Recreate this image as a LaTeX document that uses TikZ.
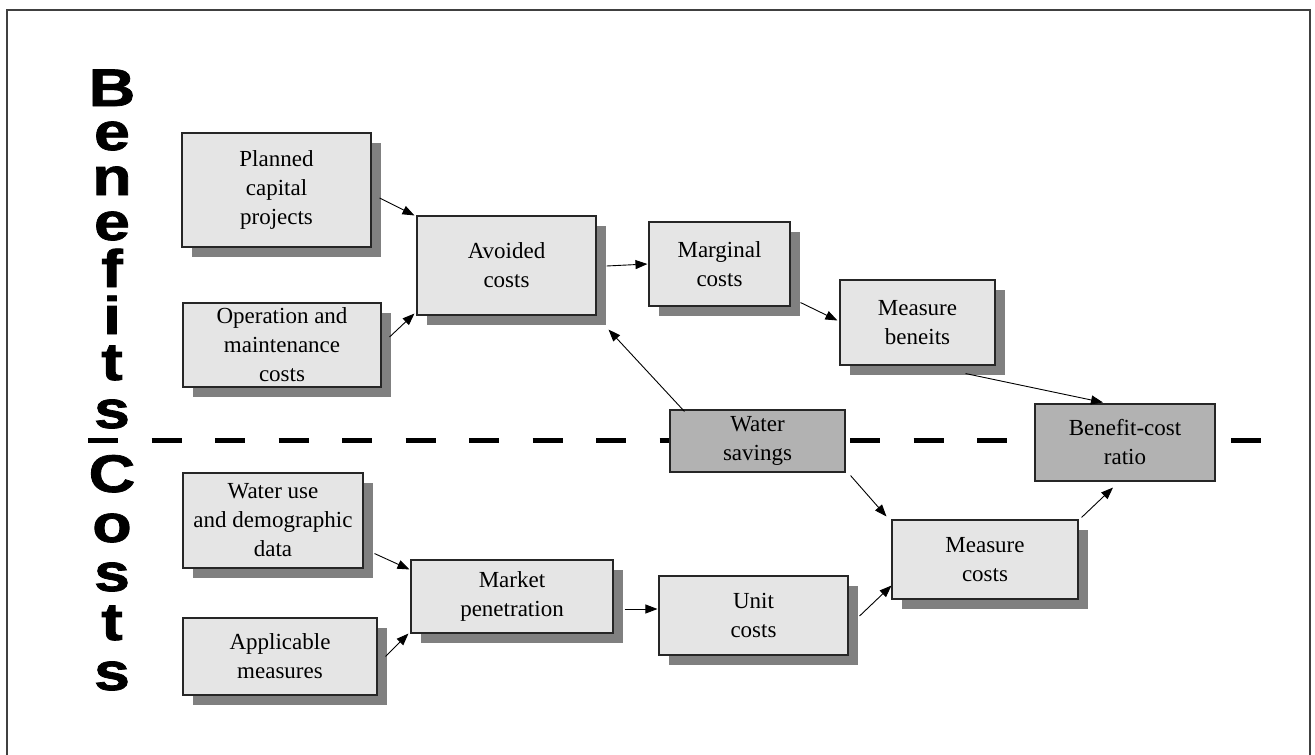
\documentclass[tikz,border=0pt]{standalone}
\usepackage{fontspec}
\setmainfont{Liberation Serif}
\newfontfamily\bigsans{Liberation Sans}[BoldFeatures={FakeBold=1.3}]
\usetikzlibrary{shadows,calc,arrows.meta}
\definecolor{boxfill}{gray}{0.9}
\definecolor{shadowgray}{gray}{0.5}
\definecolor{darkfill}{gray}{0.7}
\definecolor{framecol}{gray}{0.25}
\newcommand{\wideletter}[1]{\scalebox{1.22}[1]{#1}}
\begin{document}
\begin{tikzpicture}[x=1pt,y=-1pt,
  basebox/.style={draw=black!85, line width=1.1pt, align=center, inner sep=0pt,
    font=\fontsize{23}{29}\selectfont},
  box/.style={basebox, fill=boxfill,
    drop shadow={shadow xshift=10pt, shadow yshift=-10pt, fill=shadowgray, opacity=1}},
  darkbox/.style={basebox, fill=darkfill},
  arr/.style={-{Triangle[length=12pt,width=9pt]}, line width=0.9pt},
  letter/.style={anchor=base, inner sep=0pt, text height=26pt, text depth=0pt,
    font=\bigsans\bfseries\fontsize{53}{53}\selectfont}]
\useasboundingbox (0,0) rectangle (1315,755);
% frame
\coordinate (f1) at (7,790);
\coordinate (f2) at (7,10);
\coordinate (f3) at (1310,10);
\coordinate (f4) at (1310,790);
\draw[framecol, line width=1.5pt] (f1) -- (f2) -- (f3) -- (f4);
% dashed divider
\coordinate (dl) at (88,440);
\coordinate (dr) at (1262,440);
\draw[line width=5pt, dash pattern=on 30pt off 33.5pt] (dl) -- (dr);
% vertical letters
\node[letter] (l1) at (112,106) {\wideletter{B}};
\node[letter] (l2) at (112,150) {\wideletter{e}};
\node[letter] (l3) at (112,195) {\wideletter{n}};
\node[letter] (l4) at (112,240) {\wideletter{e}};
\node[letter] (l5) at (112,287) {\wideletter{f}};
\node[letter] (l6) at (112,334) {\wideletter{i}};
\node[letter] (l7) at (112,380) {\wideletter{t}};
\node[letter] (l8) at (112,428) {\wideletter{s}};
\node[letter] (l9) at (112,492) {\wideletter{C}};
\node[letter] (l10) at (112,542) {\wideletter{o}};
\node[letter] (l11) at (112,591) {\wideletter{s}};
\node[letter] (l12) at (112,640) {\wideletter{t}};
\node[letter] (l13) at (112,690) {\wideletter{s}};
% boxes
\node[box, minimum width=189pt, minimum height=114pt] (planned) at (276.5,190) {Planned\\capital\\projects};
\node[box, minimum width=198pt, minimum height=84pt] (om) at (282,345) {Operation and\\maintenance\\costs};
\node[box, minimum width=179pt, minimum height=99pt] (avoided) at (506.5,265.5) {Avoided\\costs};
\node[box, minimum width=141pt, minimum height=84pt] (marginal) at (719.5,264) {Marginal\\costs};
\node[box, minimum width=155pt, minimum height=85pt] (mben) at (917.5,322.5) {Measure\\beneits};
\node[box, minimum width=180pt, minimum height=95pt] (wateruse) at (273,520.5) {Water use\\and demographic\\data};
\node[box, minimum width=194pt, minimum height=77pt] (applic) at (280,656.5) {Applicable\\measures};
\node[box, minimum width=202pt, minimum height=73pt] (market) at (512,596.5) {Market\\penetration};
\node[box, minimum width=189pt, minimum height=79pt] (unit) at (753.5,615.5) {Unit\\costs};
\node[box, minimum width=186pt, minimum height=79pt] (mcost) at (985,559.5) {Measure\\costs};
\node[darkbox, minimum width=175pt, minimum height=62pt] (wsav) at (757.5,441) {Water\\savings};
\node[darkbox, minimum width=180pt, minimum height=77pt] (bcr) at (1125,442.5) {Benefit-cost\\ratio};
% arrows
\draw[arr] ($(planned.east)+(8,8)$) -- ($(avoided.north west)+(-2,0)$);
\draw[arr] ($(om.east)+(8,-8)$) -- ($(avoided.south west)+(-2,-2)$);
\draw[arr] ($(avoided.east)+(10,0.5)$) -- ($(marginal.west)+(-1,0)$);
\draw[arr] ($(marginal.south east)+(10,-4)$) -- ($(mben.west)+(-2,-2)$);
\draw[arr] ($(mben.south east)+(-30,8)$) -- ($(bcr.north)+(-22,-1)$);
\draw[arr] ($(wsav.north west)+(15,2)$) -- ($(avoided.south east)+(12,14)$);
\draw[arr] ($(wsav.south east)+(5,3)$) -- ($(mcost.north west)+(-5,-3)$);
\draw[arr] ($(wateruse.south east)+(11,-15)$) -- ($(market.north west)+(-1,10)$);
\draw[arr] ($(applic.east)+(8,0)$) -- ($(market.south west)+(-2,0)$);
\draw[arr] ($(market.east)+(11,12.5)$) -- ($(unit.west)+(-1,-6.5)$);
\draw[arr] ($(unit.east)+(11,0.5)$) -- ($(mcost.south west)+(0,-14)$);
\draw[arr] ($(mcost.north east)+(3,-2)$) -- ($(bcr.south)+(-12,6)$);
\end{tikzpicture}
\end{document}
